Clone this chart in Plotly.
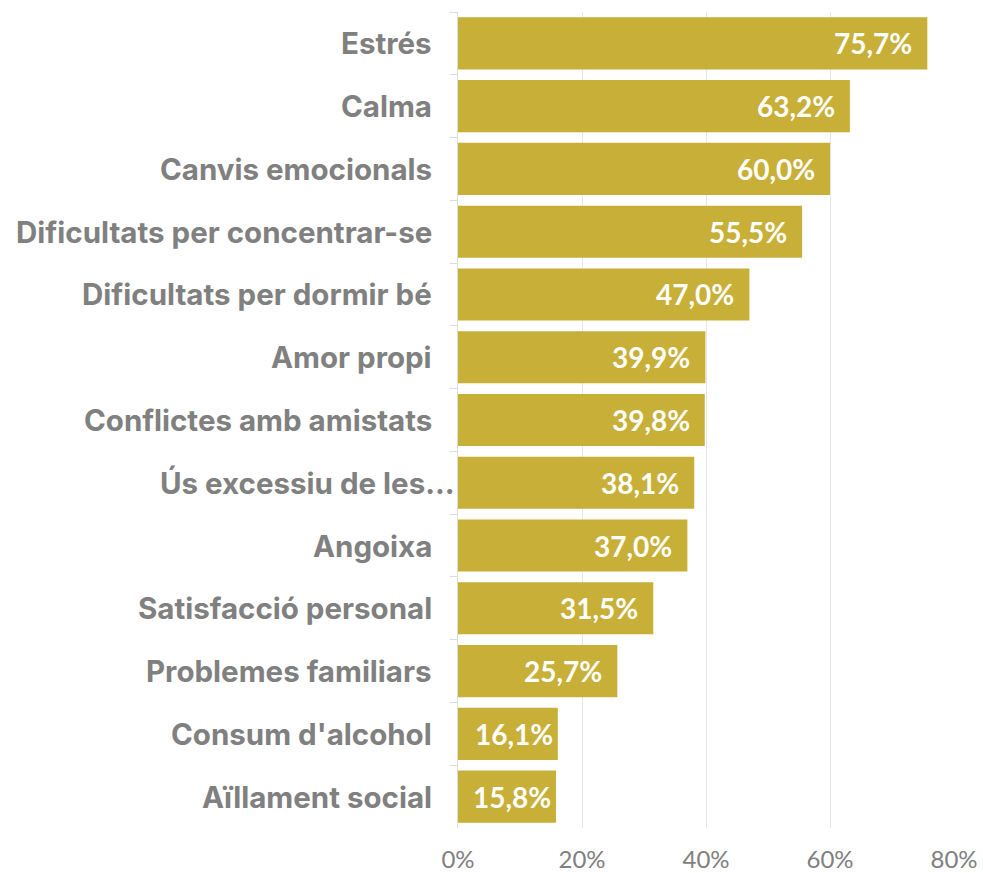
import plotly.graph_objects as go

categories = ["Estrés", "Calma", "Canvis emocionals", "Dificultats per concentrar-se",
              "Dificultats per dormir bé", "Amor propi", "Conflictes amb amistats",
              "Ús excessiu de les...", "Angoixa", "Satisfacció personal",
              "Problemes familiars", "Consum d'alcohol", "Aïllament social"]
values = [75.7, 63.2, 60.0, 55.5, 47.0, 39.9, 39.8, 38.1, 37.0, 31.5, 25.7, 16.1, 15.8]
x_ticks = [0, 20, 40, 60, 80]
x_tick_labels = ["0%", "20%", "40%", "60%", "80%"]

BAR = "#C8AF37"
GRAY = "#808080"

fig = go.Figure(go.Bar(
    x=values, y=categories, orientation="h",
    marker=dict(color=BAR, line=dict(width=0)),
    hoverinfo="skip",
))

annotations = []
for c, v in zip(categories, values):
    txt = f"{v:.1f}".replace(".", ",") + "%"
    annotations.append(dict(
        x=v, y=c, xref="x", yref="y", text=txt, showarrow=False,
        xanchor="right", xshift=-13 if v >= 20 else -3,
        font=dict(family="Lato", size=28, color="white", weight="bold"),
    ))
    annotations.append(dict(
        x=0, y=c, xref="x", yref="y", text=c, showarrow=False,
        xanchor="right", xshift=-1 if c.endswith("...") else -24,
        font=dict(family="Inter", size=29.5, color=GRAY, weight="bold"),
    ))

fig.update_layout(
    width=983, height=873,
    margin=dict(l=458, r=29, t=12, b=45, autoexpand=False),
    plot_bgcolor="white", paper_bgcolor="white",
    bargap=0.17,
    showlegend=False,
    annotations=annotations,
    xaxis=dict(
        range=[0, 80], tickvals=x_ticks, ticktext=x_tick_labels,
        showgrid=True, gridcolor="#E6E6E6", gridwidth=1, zeroline=False,
        tickfont=dict(family="Lato", size=24, color=GRAY),
        ticks="outside", ticklen=10, tickcolor="rgba(0,0,0,0)",
        showline=False, fixedrange=True, automargin=False,
    ),
    yaxis=dict(
        autorange="reversed", showticklabels=False,
        tickson="boundaries", ticks="outside", ticklen=7, tickcolor="#DDDDDD",
        showline=True, linecolor="#DDDDDD", linewidth=1,
        showgrid=False, zeroline=False, fixedrange=True, automargin=False,
    ),
)

fig.write_html("out.html")
